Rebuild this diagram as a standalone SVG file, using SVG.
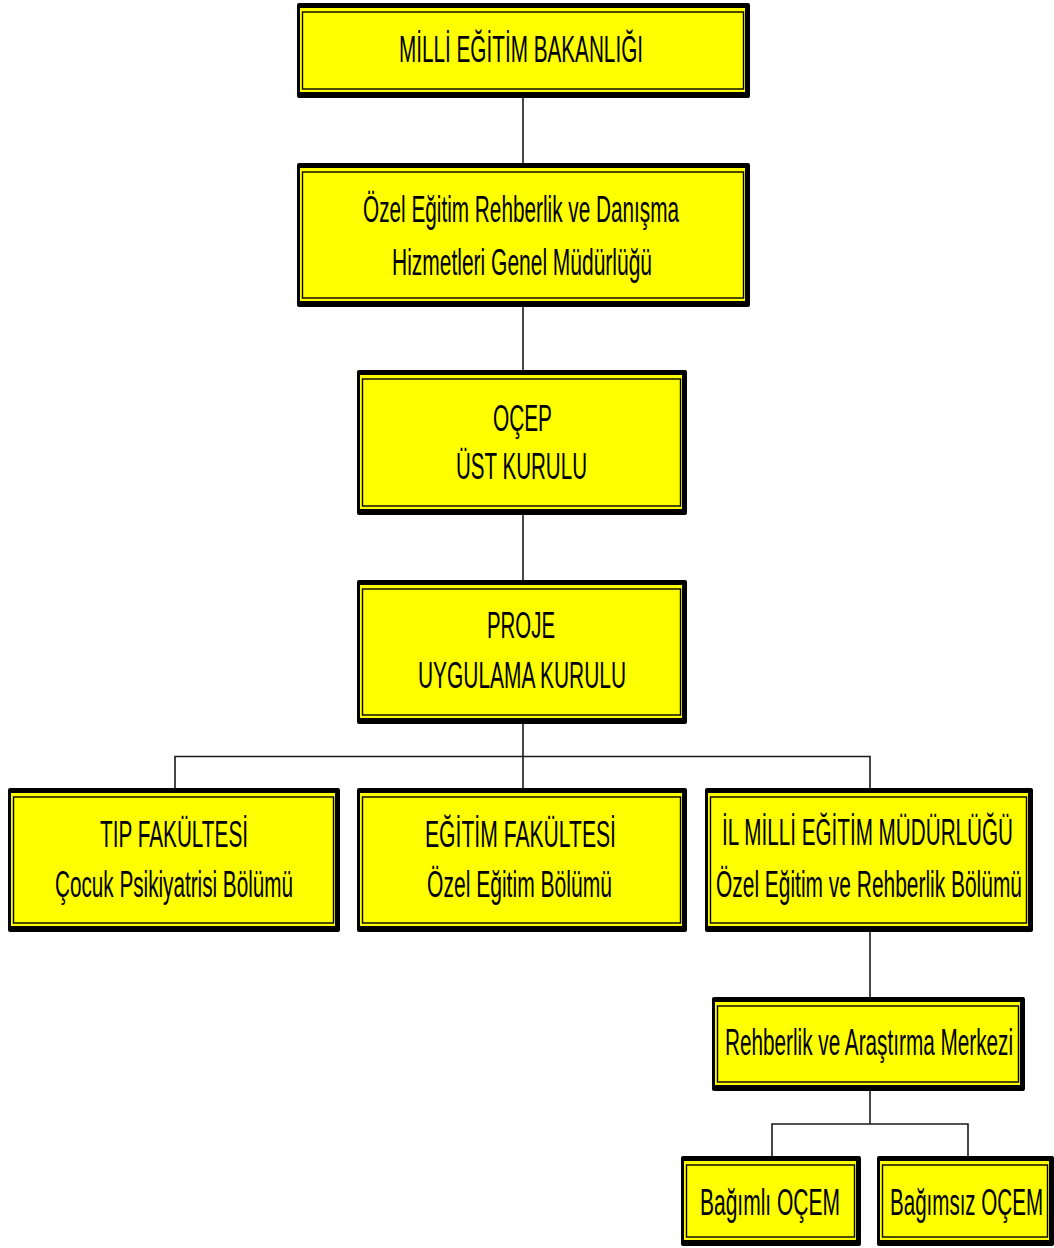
<svg xmlns="http://www.w3.org/2000/svg" width="1054" height="1248" viewBox="0 0 1054 1248">
  <style>
    .frame { fill: #000000; }
    .face { fill: #FFFF00; }
    .rule { fill: none; stroke: #000000; stroke-width: 1.4; }
    .lbl { font-family: "Liberation Sans", Arial, sans-serif; font-size: 37px; fill: #000000; }
    .link { fill: none; stroke: #1a1a1a; stroke-width: 1.6; }
  </style>

  <!-- connectors -->
  <g id="connectors">
    <line class="link" x1="523" y1="98" x2="523" y2="163"/>
    <line class="link" x1="523" y1="307" x2="523" y2="370"/>
    <line class="link" x1="523" y1="515" x2="523" y2="580"/>
    <line class="link" x1="523" y1="724" x2="523" y2="788"/>
    <polyline class="link" points="175,788 175,756.5 870,756.5 870,788"/>
    <line class="link" x1="870" y1="932" x2="870" y2="997"/>
    <line class="link" x1="870" y1="1091" x2="870" y2="1124"/>
    <polyline class="link" points="772,1156 772,1124 968,1124 968,1156"/>
  </g>

  <!-- Bakanlık -->
  <g id="node-meb">
    <rect class="frame" x="297" y="3" width="453" height="95" rx="2"/>
    <rect class="face" x="300" y="8" width="445" height="84"/>
    <rect class="rule" x="302.5" y="12" width="441" height="77"/>
    <text class="lbl" x="399" y="62" textLength="244" lengthAdjust="spacingAndGlyphs">MİLLİ EĞİTİM BAKANLIĞI</text>
  </g>

  <!-- Genel Müdürlük -->
  <g id="node-gm">
    <rect class="frame" x="297" y="163" width="453" height="144" rx="2"/>
    <rect class="face" x="300" y="168" width="445" height="133"/>
    <rect class="rule" x="302.5" y="172" width="441" height="126"/>
    <text class="lbl" x="363" y="222" textLength="316" lengthAdjust="spacingAndGlyphs">Özel Eğitim Rehberlik ve Danışma</text>
    <text class="lbl" x="392" y="275" textLength="260" lengthAdjust="spacingAndGlyphs">Hizmetleri Genel Müdürlüğü</text>
  </g>

  <!-- Üst kurul -->
  <g id="node-ocep">
    <rect class="frame" x="357" y="370" width="330" height="145" rx="2"/>
    <rect class="face" x="360" y="375" width="322" height="134"/>
    <rect class="rule" x="362.5" y="379" width="318" height="127"/>
    <text class="lbl" x="493" y="431" textLength="59" lengthAdjust="spacingAndGlyphs">OÇEP</text>
    <text class="lbl" x="456" y="479" textLength="131" lengthAdjust="spacingAndGlyphs">ÜST KURULU</text>
  </g>

  <!-- Uygulama kurulu -->
  <g id="node-proje">
    <rect class="frame" x="357" y="580" width="330" height="144" rx="2"/>
    <rect class="face" x="360" y="585" width="322" height="133"/>
    <rect class="rule" x="362.5" y="589" width="318" height="126"/>
    <text class="lbl" x="487" y="638" textLength="68" lengthAdjust="spacingAndGlyphs">PROJE</text>
    <text class="lbl" x="418" y="688" textLength="208" lengthAdjust="spacingAndGlyphs">UYGULAMA KURULU</text>
  </g>

  <!-- Tıp fakültesi -->
  <g id="node-tip">
    <rect class="frame" x="8" y="788" width="332" height="144" rx="2"/>
    <rect class="face" x="11" y="793" width="324" height="133"/>
    <rect class="rule" x="13.5" y="797" width="320" height="126"/>
    <text class="lbl" x="100" y="847" textLength="148" lengthAdjust="spacingAndGlyphs">TIP FAKÜLTESİ</text>
    <text class="lbl" x="55" y="897" textLength="238" lengthAdjust="spacingAndGlyphs">Çocuk Psikiyatrisi Bölümü</text>
  </g>

  <!-- Eğitim fakültesi -->
  <g id="node-egitim">
    <rect class="frame" x="357" y="788" width="330" height="144" rx="2"/>
    <rect class="face" x="360" y="793" width="322" height="133"/>
    <rect class="rule" x="362.5" y="797" width="318" height="126"/>
    <text class="lbl" x="425" y="847" textLength="191" lengthAdjust="spacingAndGlyphs">EĞİTİM FAKÜLTESİ</text>
    <text class="lbl" x="427" y="897" textLength="185" lengthAdjust="spacingAndGlyphs">Özel Eğitim Bölümü</text>
  </g>

  <!-- İl müdürlüğü -->
  <g id="node-il">
    <rect class="frame" x="705" y="788" width="328" height="144" rx="2"/>
    <rect class="face" x="708" y="793" width="320" height="133"/>
    <rect class="rule" x="710.5" y="797" width="316" height="126"/>
    <text class="lbl" x="722" y="845" textLength="291" lengthAdjust="spacingAndGlyphs">İL MİLLİ EĞİTİM MÜDÜRLÜĞÜ</text>
    <text class="lbl" x="716" y="897" textLength="306" lengthAdjust="spacingAndGlyphs">Özel Eğitim ve Rehberlik Bölümü</text>
  </g>

  <!-- RAM -->
  <g id="node-ram">
    <rect class="frame" x="712" y="997" width="313" height="94" rx="2"/>
    <rect class="face" x="715" y="1002" width="305" height="83"/>
    <rect class="rule" x="717.5" y="1006" width="301" height="76"/>
    <text class="lbl" x="725" y="1055" textLength="288" lengthAdjust="spacingAndGlyphs">Rehberlik ve Araştırma Merkezi</text>
  </g>

  <!-- Bağımlı OÇEM -->
  <g id="node-bagimli">
    <rect class="frame" x="681" y="1156" width="180" height="90" rx="2"/>
    <rect class="face" x="684" y="1161" width="172" height="79"/>
    <rect class="rule" x="686.5" y="1165" width="168" height="72"/>
    <text class="lbl" x="700" y="1215" textLength="140" lengthAdjust="spacingAndGlyphs">Bağımlı OÇEM</text>
  </g>

  <!-- Bağımsız OÇEM -->
  <g id="node-bagimsiz">
    <rect class="frame" x="877" y="1156" width="177" height="90" rx="2"/>
    <rect class="face" x="880" y="1161" width="169" height="79"/>
    <rect class="rule" x="882.5" y="1165" width="165" height="72"/>
    <text class="lbl" x="890" y="1215" textLength="153" lengthAdjust="spacingAndGlyphs">Bağımsız OÇEM</text>
  </g>
</svg>
